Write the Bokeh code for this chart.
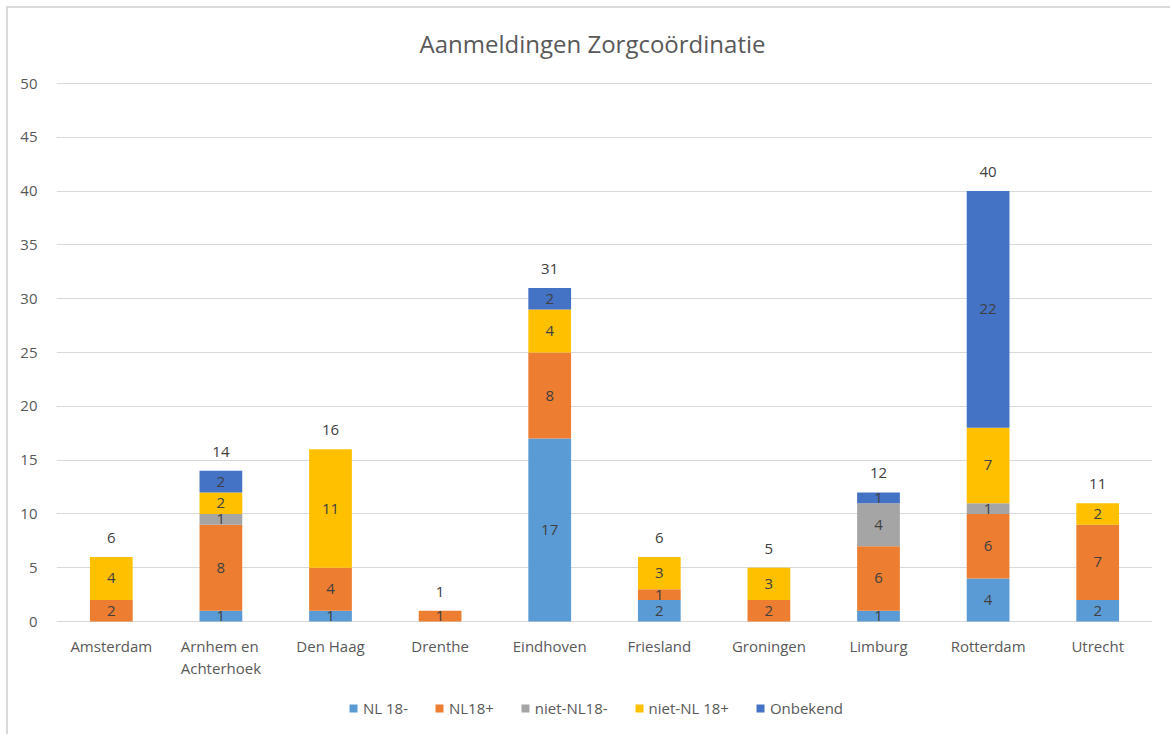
from bokeh.plotting import figure
from bokeh.models import (ColumnDataSource, Range1d, Legend, LegendItem, LabelSet, Label,
                          FixedTicker)
from bokeh.core.properties import value
from bokeh.embed import file_html
from bokeh.resources import INLINE

regions = ["Amsterdam", "Arnhem en\nAchterhoek", "Den Haag", "Drenthe", "Eindhoven",
           "Friesland", "Groningen", "Limburg", "Rotterdam", "Utrecht"]
series_names = ["NL 18-", "NL18+", "niet-NL18-", "niet-NL 18+", "Onbekend"]
nl_min = [0, 1, 1, 0, 17, 2, 0, 1, 4, 2]
nl_plus = [2, 8, 4, 1, 8, 1, 2, 6, 6, 7]
niet_nl_min = [0, 1, 0, 0, 0, 0, 0, 4, 1, 0]
niet_nl_plus = [4, 2, 11, 0, 4, 3, 3, 0, 7, 2]
onbekend = [0, 2, 0, 0, 2, 0, 0, 1, 22, 0]
y_ticks = [0, 5, 10, 15, 20, 25, 30, 35, 40, 45, 50]
title_text = "Aanmeldingen Zorgcoördinatie"
colors = ["#5B9BD5", "#ED7D31", "#A5A5A5", "#FFC000", "#4472C4"]

FONT = "Open Sans"
TXT = "#595959"

series = [nl_min, nl_plus, niet_nl_min, niet_nl_plus, onbekend]
keys = ["s0", "s1", "s2", "s3", "s4"]
data = {"region": regions}
for k, s in zip(keys, series):
    data[k] = s
src = ColumnDataSource(data)

# pixel layout: value 50 at 75px from top, value 0 at 613px; frame extended up/down
H = 728
FRAME_TOP, FRAME_BOTTOM = 6, 3
Y50, Y0 = 75, 613
ppu = (Y0 - Y50) / 50.0
y_start = -(H - FRAME_BOTTOM - Y0) / ppu
y_end = 50 + (Y50 - FRAME_TOP) / ppu

p = figure(x_range=regions, y_range=Range1d(y_start, y_end), width=1164, height=H,
           output_backend="svg", toolbar_location=None, x_axis_location=None,
           min_border_left=48, min_border_right=20, min_border_top=FRAME_TOP,
           min_border_bottom=FRAME_BOTTOM)
p.styles = {"margin-left": "6px", "margin-top": "6px",
            "border-left": "2px solid #D9D9D9", "border-top": "2px solid #D9D9D9"}

renderers = p.vbar_stack(keys, x="region", width=0.39, source=src, color=colors, line_color=None)

# segment labels
lx, ly, lt = [], [], []
tot = [0] * len(regions)
for s in series:
    for i, v in enumerate(s):
        if v > 0:
            lx.append(regions[i]); ly.append(tot[i] + v / 2); lt.append(str(v))
        tot[i] += v
lab_src = ColumnDataSource(dict(x=lx, y=ly, t=lt))
p.add_layout(LabelSet(x="x", y="y", text="t", source=lab_src, text_align="center",
                      text_baseline="middle", text_font=value(FONT), text_font_size="15px",
                      text_color="#404040"))
tot_src = ColumnDataSource(dict(x=regions, y=tot, t=[str(v) for v in tot]))
p.add_layout(LabelSet(x="x", y="y", text="t", source=tot_src, text_align="center",
                      text_baseline="middle", y_offset=19, text_font=value(FONT),
                      text_font_size="15px", text_color="#404040"))

# category labels (x axis)
cat_src = ColumnDataSource(dict(x=regions, y=[0] * len(regions), t=regions))
p.add_layout(LabelSet(x="x", y="y", text="t", source=cat_src, text_align="center",
                      text_baseline="top", y_offset=-14, text_font=value(FONT),
                      text_font_size="15px", text_color=TXT, text_line_height=1.1))

# title drawn inside the (extended) frame
p.add_layout(Label(x=len(regions) / 2, y=50 + (Y50 - 35) / ppu, text=title_text,
                   text_align="center", text_baseline="middle", x_offset=-12,
                   text_font=FONT, text_font_size="24px", text_color=TXT))

p.yaxis.ticker = FixedTicker(ticks=y_ticks)
p.yaxis.axis_line_color = None
p.yaxis.major_tick_line_color = None
p.yaxis.minor_tick_line_color = None
p.yaxis.major_label_standoff = 13
p.yaxis.major_label_text_font = FONT
p.yaxis.major_label_text_font_size = "15px"
p.yaxis.major_label_text_color = TXT
p.ygrid.ticker = FixedTicker(ticks=y_ticks)
p.ygrid.grid_line_color = "#D9D9D9"
p.xgrid.grid_line_color = None
p.outline_line_color = None

legend = Legend(items=[LegendItem(label=n, renderers=[r]) for n, r in zip(series_names, renderers)],
                orientation="horizontal", location=(292, 15), label_text_font=FONT,
                label_text_font_size="15px", label_text_color=TXT, glyph_width=10,
                glyph_height=10, spacing=26, label_standoff=5, border_line_color=None,
                background_fill_alpha=0, margin=0, padding=0, label_height=20)
p.add_layout(legend, "center")

open("out.html", "w").write(file_html(p, INLINE))
